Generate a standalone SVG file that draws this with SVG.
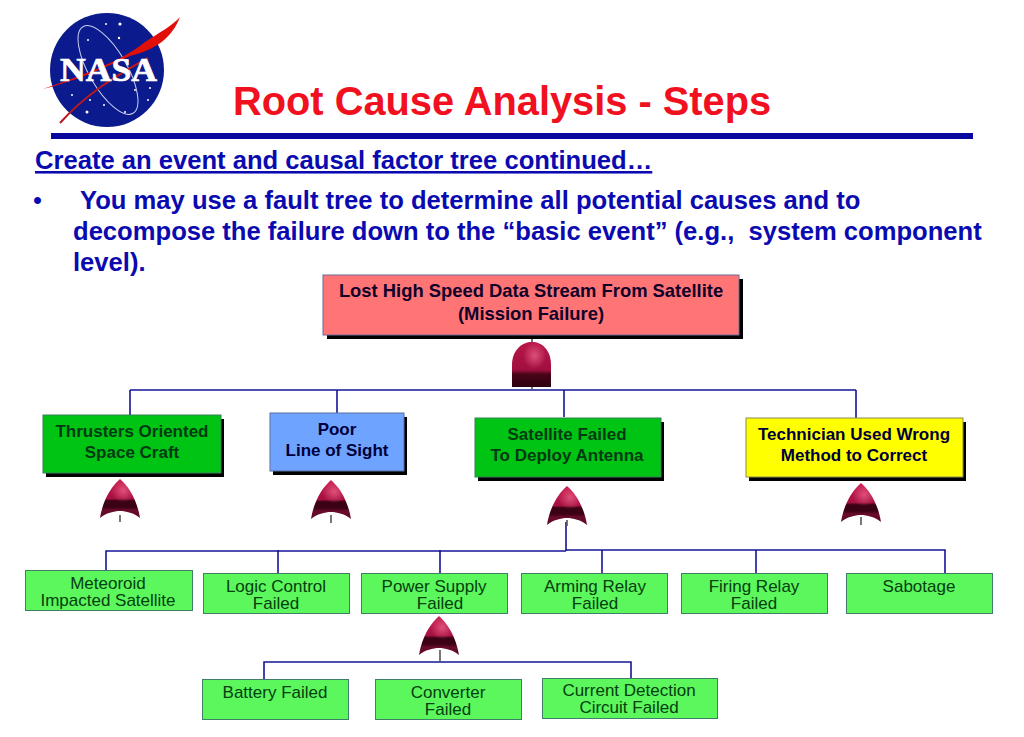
<svg xmlns="http://www.w3.org/2000/svg" width="1024" height="737" viewBox="0 0 1024 737">
<style>
text{font-family:"Liberation Sans",Arial,sans-serif}
.t{text-anchor:middle}
.big{font-size:17px;font-weight:bold;fill:#003a10}
.bk{font-size:17px;font-weight:bold;fill:#00003a}
.top{font-size:18.4px;font-weight:bold;fill:#10002a}
.sm{font-size:17px;fill:#04400f}
.b{font-size:25.6px;font-weight:bold;fill:#0a0ab0;white-space:pre}
.w{stroke:#3f7f66;stroke-width:1;fill:#5cf75c}
.sh{fill:#000}
.l{stroke:#14149a;stroke-width:1.6;fill:none}
.g{stroke:#555;stroke-width:1.6;fill:none}
</style>
<defs>
<linearGradient id="gate" x1="0" y1="0" x2="0" y2="1">
<stop offset="0" stop-color="#c81c50"/><stop offset=".5" stop-color="#a51040"/><stop offset=".56" stop-color="#3a0214"/><stop offset=".72" stop-color="#3a0214"/><stop offset=".8" stop-color="#6a0c2c"/><stop offset="1" stop-color="#5a0822"/>
</linearGradient>
<linearGradient id="gateA" x1="0" y1="0" x2="0" y2="1">
<stop offset="0" stop-color="#b81648"/><stop offset=".62" stop-color="#a01040"/><stop offset=".72" stop-color="#4a0418"/><stop offset="1" stop-color="#2c0210"/>
</linearGradient>
<radialGradient id="glow" cx=".58" cy=".3" r=".3"><stop offset="0" stop-color="#f06a90" stop-opacity=".7"/><stop offset="1" stop-color="#f06a90" stop-opacity="0"/></radialGradient>
<g id="or">
<path d="M0 0C8 7 17 20 20 39C14 34 6 32 0 32C-6 32-14 34-20 39C-17 20-8 7 0 0Z" fill="url(#gate)"/>
<path d="M0 0C8 7 17 20 20 39C14 34 6 32 0 32C-6 32-14 34-20 39C-17 20-8 7 0 0Z" fill="url(#glow)"/>
</g>
</defs>
<rect width="1024" height="737" fill="#fff"/>
<g id="logo">
<circle cx="107" cy="70" r="57" fill="#0b1a8c"/>
<ellipse cx="108" cy="70" rx="19" ry="50" transform="rotate(-30 108 70)" fill="none" stroke="#c8d0f0" stroke-width="1"/>
<g fill="#fff"><circle cx="120" cy="24" r="1.6"/><circle cx="106" cy="24" r="1"/><circle cx="119" cy="38" r="1.2"/><circle cx="88" cy="40" r="1"/><circle cx="72" cy="95" r="1"/><circle cx="87" cy="112" r="1.500"/><circle cx="90" cy="100" r="1"/><circle cx="135" cy="90" r="1"/><circle cx="148" cy="100" r="1"/><circle cx="125" cy="112" r="1"/><circle cx="150" cy="88" r="1"/><circle cx="104" cy="105" r="1"/></g>
<path d="M43 89C85 74 120 62 145 42C160 32 172 26 180 17C172 38 155 50 130 56C100 70 72 82 43 89Z" fill="#e01008"/>
<path d="M60 123C85 95 115 76 148 58" stroke="#b81820" stroke-width="2" fill="none"/>
<text x="108.500" y="81" class="t" style="font-family:'Liberation Serif',serif;font-weight:bold" font-size="33" fill="#fff" stroke="#fff" stroke-width=".7" textLength="97" lengthAdjust="spacingAndGlyphs">NASA</text>
</g>
<g id="heading">
<text x="233" y="115" font-size="39.800" font-weight="bold" fill="#f01020">Root Cause Analysis - Steps</text>
<rect x="51" y="133" width="922" height="6" fill="#0808a0"/>
<text x="35" y="169" class="b" text-decoration="underline">Create an event and causal factor tree continued…</text>
<text x="33" y="209" class="b" style="font-weight:normal">•</text>
<text x="80" y="209" class="b">You may use a fault tree to determine all potential causes and to</text>
<text x="73" y="240" class="b">decompose the failure down to the “basic event” (e.g.,  system component</text>
<text x="73" y="271" class="b">level).</text>
</g>
<g id="connectors">
<path class="l" d="M130 390H856M130 390V415M337 390V413M564 390V417M856 390V418"/>
<path class="l" d="M106 570V551H566M566 522V551M566 550H945V573M278 550V573M440 550V573M602 550V573M756 550V573"/>
<path class="l" d="M264 679V662H631V678"/>
<path class="g" d="M532 335V342M532 387V390M120 515V522M331 515V523M567 520V526M861 517V525M440 650V662"/>
</g>
<g id="gate-top">
<path d="M512 387V365C512 350 522 342 532 342C542 342 551 350 551 365V387Z" fill="url(#gateA)"/>
<path d="M512 387V365C512 350 522 342 532 342C542 342 551 350 551 365V387Z" fill="url(#glow)"/>
</g>
<g id="gate-thrusters"><use href="#or" x="120" y="479"/></g>
<g id="gate-sight"><use href="#or" x="331" y="480"/></g>
<g id="gate-satellite"><use href="#or" x="567" y="486"/></g>
<g id="gate-technician"><use href="#or" x="861" y="483"/></g>
<g id="gate-power"><use href="#or" x="439" y="616"/></g>
<g id="n-top"><rect class="sh" x="327" y="279" width="416" height="60"/><rect x="323" y="275" width="416" height="60" fill="#ff7575" stroke="#6a6a9a"/>
<text class="t top" x="531" y="297">Lost High Speed Data Stream From Satellite</text><text class="t top" x="531" y="320">(Mission Failure)</text></g>
<g id="n-thrusters"><rect class="sh" x="46" y="419" width="178" height="58"/><rect x="43" y="415" width="178" height="58" fill="#00c414" stroke="#3a7f5a"/>
<text class="t big" x="132" y="437">Thrusters Oriented</text><text class="t big" x="132" y="458">Space Craft</text></g>
<g id="n-sight"><rect class="sh" x="273" y="417" width="134" height="58"/><rect x="270" y="413" width="134" height="58" fill="#6ea4ff" stroke="#5a6fa0"/>
<text class="t bk" x="337" y="435">Poor</text><text class="t bk" x="337" y="456">Line of Sight</text></g>
<g id="n-satellite"><rect class="sh" x="478" y="422" width="186" height="59"/><rect x="475" y="418" width="186" height="59" fill="#00c414" stroke="#3a7f5a"/>
<text class="t big" x="567" y="440">Satellite Failed</text><text class="t big" x="567" y="461">To Deploy Antenna</text></g>
<g id="n-technician"><rect class="sh" x="749" y="422" width="217" height="59"/><rect x="746" y="418" width="217" height="59" fill="#ffff00" stroke="#8a8a50"/>
<text class="t bk" x="854" y="440">Technician Used Wrong</text><text class="t bk" x="854" y="461">Method to Correct</text></g>
<g id="n-meteoroid"><rect class="w" x="25.500" y="570.500" width="167" height="40"/><text class="t sm" x="108" y="589">Meteoroid</text><text class="t sm" x="108" y="606">Impacted Satellite</text></g>
<g id="n-logic"><rect class="w" x="203.500" y="573.500" width="146" height="40"/><text class="t sm" x="276" y="592">Logic Control</text><text class="t sm" x="276" y="609">Failed</text></g>
<g id="n-power"><rect class="w" x="361.500" y="573.500" width="146" height="40"/><text class="t sm" x="434" y="592">Power Supply</text><text class="t sm" x="440" y="609">Failed</text></g>
<g id="n-arming"><rect class="w" x="521.500" y="573.500" width="146" height="40"/><text class="t sm" x="595" y="592">Arming Relay</text><text class="t sm" x="595" y="609">Failed</text></g>
<g id="n-firing"><rect class="w" x="681.500" y="573.500" width="146" height="40"/><text class="t sm" x="754" y="592">Firing Relay</text><text class="t sm" x="754" y="609">Failed</text></g>
<g id="n-sabotage"><rect class="w" x="846.500" y="573.500" width="146" height="40"/><text class="t sm" x="919" y="592">Sabotage</text></g>
<g id="n-battery"><rect class="w" x="202.500" y="679.500" width="146" height="40"/><text class="t sm" x="275" y="698">Battery Failed</text></g>
<g id="n-converter"><rect class="w" x="375.500" y="679.500" width="146" height="40"/><text class="t sm" x="448" y="698">Converter</text><text class="t sm" x="448" y="715">Failed</text></g>
<g id="n-current"><rect class="w" x="542.500" y="678.500" width="175" height="40"/><text class="t sm" x="629" y="696">Current Detection</text><text class="t sm" x="629" y="713">Circuit Failed</text></g>
</svg>
